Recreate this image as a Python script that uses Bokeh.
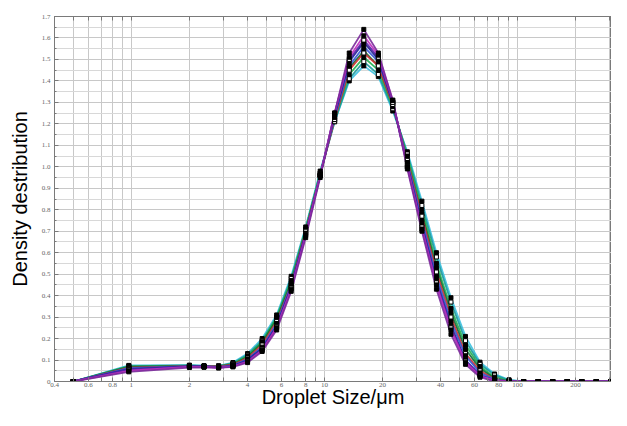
from bokeh.plotting import figure
from bokeh.models import FixedTicker, LogAxis, CustomJSTickFormatter, Range1d, CustomLabelingPolicy
from bokeh.embed import file_html
from bokeh.resources import INLINE

# droplet size classes (µm)
sizes = [0.5, 0.97, 2.0, 2.38, 2.83, 3.36, 4.0, 4.76, 5.66, 6.73, 8.0, 9.51, 11.3, 13.45,
         16.0, 19.03, 22.6, 26.9, 32.0, 38.05, 45.25, 53.8, 64.0, 76.1, 90.5, 107.6,
         128.0, 152.2, 181.0, 215.3, 256.0, 304.4]

s1 = [0, 0.045, 0.065, 0.066, 0.063, 0.068, 0.088, 0.14, 0.24, 0.42, 0.67, 0.95, 1.25, 1.53, 1.64, 1.53, 1.31, 0.99, 0.70, 0.43, 0.22, 0.08, 0.02, 0.0, 0, 0, 0, 0, 0, 0, 0, 0]
s2 = [0, 0.05, 0.068, 0.068, 0.064, 0.07, 0.092, 0.145, 0.25, 0.43, 0.68, 0.96, 1.25, 1.51, 1.61, 1.52, 1.31, 1.0, 0.71, 0.45, 0.24, 0.09, 0.025, 0.005, 0, 0, 0, 0, 0, 0, 0, 0]
s3 = [0, 0.058, 0.07, 0.07, 0.066, 0.072, 0.1, 0.155, 0.26, 0.44, 0.69, 0.96, 1.24, 1.49, 1.58, 1.50, 1.30, 1.01, 0.73, 0.47, 0.26, 0.10, 0.03, 0.005, 0, 0, 0, 0, 0, 0, 0, 0]
s4 = [0, 0.062, 0.072, 0.071, 0.068, 0.075, 0.105, 0.16, 0.27, 0.45, 0.69, 0.96, 1.23, 1.47, 1.56, 1.49, 1.30, 1.02, 0.75, 0.49, 0.28, 0.12, 0.04, 0.01, 0, 0, 0, 0, 0, 0, 0, 0]
s5 = [0, 0.065, 0.072, 0.072, 0.07, 0.078, 0.11, 0.17, 0.28, 0.45, 0.70, 0.96, 1.22, 1.45, 1.53, 1.47, 1.29, 1.03, 0.77, 0.51, 0.30, 0.13, 0.05, 0.01, 0, 0, 0, 0, 0, 0, 0, 0]
s6 = [0, 0.07, 0.074, 0.072, 0.071, 0.082, 0.12, 0.185, 0.30, 0.47, 0.71, 0.97, 1.22, 1.43, 1.51, 1.45, 1.28, 1.05, 0.80, 0.55, 0.34, 0.17, 0.07, 0.02, 0.003, 0, 0, 0, 0, 0, 0, 0]
s7 = [0, 0.072, 0.075, 0.073, 0.072, 0.085, 0.125, 0.19, 0.30, 0.48, 0.71, 0.97, 1.21, 1.41, 1.49, 1.43, 1.27, 1.06, 0.82, 0.58, 0.37, 0.19, 0.08, 0.03, 0.005, 0, 0, 0, 0, 0, 0, 0]
s8 = [0, 0.075, 0.076, 0.074, 0.073, 0.088, 0.13, 0.20, 0.31, 0.49, 0.72, 0.98, 1.21, 1.40, 1.47, 1.42, 1.26, 1.07, 0.84, 0.60, 0.39, 0.21, 0.09, 0.035, 0.008, 0, 0, 0, 0, 0, 0, 0]
s9 = [0, 0.068, 0.073, 0.072, 0.07, 0.08, 0.115, 0.18, 0.29, 0.46, 0.70, 0.96, 1.23, 1.46, 1.54, 1.47, 1.29, 1.03, 0.78, 0.53, 0.32, 0.15, 0.06, 0.015, 0, 0, 0, 0, 0, 0, 0, 0]
s10 = [0, 0.055, 0.069, 0.069, 0.065, 0.071, 0.095, 0.15, 0.255, 0.435, 0.685, 0.96, 1.25, 1.50, 1.59, 1.51, 1.30, 1.00, 0.72, 0.46, 0.25, 0.095, 0.028, 0.005, 0, 0, 0, 0, 0, 0, 0, 0]

series = [s8, s7, s6, s9, s5, s4, s3, s10, s2, s1]
colors = ["#3cc0e0", "#1a9a9a", "#22b050", "#0f6a3a", "#d03030", "#3555d5", "#1c2590", "#5a22a8", "#c02cc0", "#7a2a9a"]
marker_fill = ["black", "white", "black", "black", "white", "black", "black", "white", "black", "black"]

x_major = [0.4, 0.6, 0.8, 1, 2, 4, 6, 8, 10, 20, 40, 60, 80, 100, 200]
x_minor = [0.5, 0.7, 0.9, 3, 5, 7, 9, 30, 50, 70, 90, 300]
y_major = [round(0.1 * i, 1) for i in range(18)]
y_minor = [round(0.05 + 0.1 * i, 2) for i in range(17)]

p = figure(width=611, height=410, x_axis_type="log", output_backend="svg",
           toolbar_location=None, x_range=Range1d(0.4, 307), y_range=Range1d(0, 1.7),
           min_border_left=54, min_border_top=16, min_border_right=0, min_border_bottom=0)
p.background_fill_color = "white"
p.border_fill_color = "white"
p.outline_line_color = "#7a7a7a"

bottom = p.below[0]
left = p.left[0]

for s, c in zip(series, colors):
    p.line(sizes, s, line_color=c, line_width=1.8, line_alpha=0.9)
for s, f in zip(series, marker_fill):
    p.scatter(sizes, s, marker="square", size=4, fill_color=f, line_color="black", line_width=1)

xt = FixedTicker(ticks=x_major, minor_ticks=x_minor)
yt = FixedTicker(ticks=y_major, minor_ticks=y_minor)
bottom.ticker = xt
left.ticker = yt
bottom.formatter = CustomJSTickFormatter(code="return String(tick);")
left.formatter = CustomJSTickFormatter(code="return tick == 0 ? '0' : tick.toFixed(1);")

for ax in (bottom, left):
    ax.major_tick_in = 4
    ax.major_tick_out = 0
    ax.minor_tick_in = 2
    ax.minor_tick_out = 0
    ax.axis_line_color = "#7a7a7a"
    ax.major_tick_line_color = "#7a7a7a"
    ax.minor_tick_line_color = "#7a7a7a"
    ax.major_label_text_font = "Liberation Serif"
    ax.major_label_text_font_size = "7px"
    ax.major_label_text_color = "#666666"
    ax.axis_label_text_font = "Liberation Sans"
    ax.axis_label_text_font_style = "normal"
    ax.axis_label_text_color = "black"

bottom.minor_tick_in = 4
bottom.major_label_standoff = 1
bottom.axis_label_standoff = -4
bottom.axis_label_text_font_size = "20px"
left.major_label_standoff = 4
left.axis_label_standoff = 8
left.axis_label_text_font_size = "20px"
bottom.axis_label = "Droplet Size/μm"
left.axis_label = "Density destribution"

top = LogAxis(ticker=FixedTicker(ticks=x_major, minor_ticks=x_minor),
              major_label_policy=CustomLabelingPolicy(code="return new Set();"),
              major_label_text_font_size="1px", axis_line_color="#7a7a7a",
              major_tick_in=4, major_tick_out=0, minor_tick_in=4, minor_tick_out=0,
              major_tick_line_color="#7a7a7a", minor_tick_line_color="#7a7a7a",
              major_label_standoff=0)
p.add_layout(top, "above")

p.xgrid.ticker = xt
p.ygrid.ticker = yt
p.xgrid.grid_line_color = "#c8c8c8"
p.ygrid.grid_line_color = "#c8c8c8"
p.xgrid.minor_grid_line_color = "#c8c8c8"
p.ygrid.minor_grid_line_color = "#d8d8d8"

open("out.html", "w").write(file_html(p, INLINE))
